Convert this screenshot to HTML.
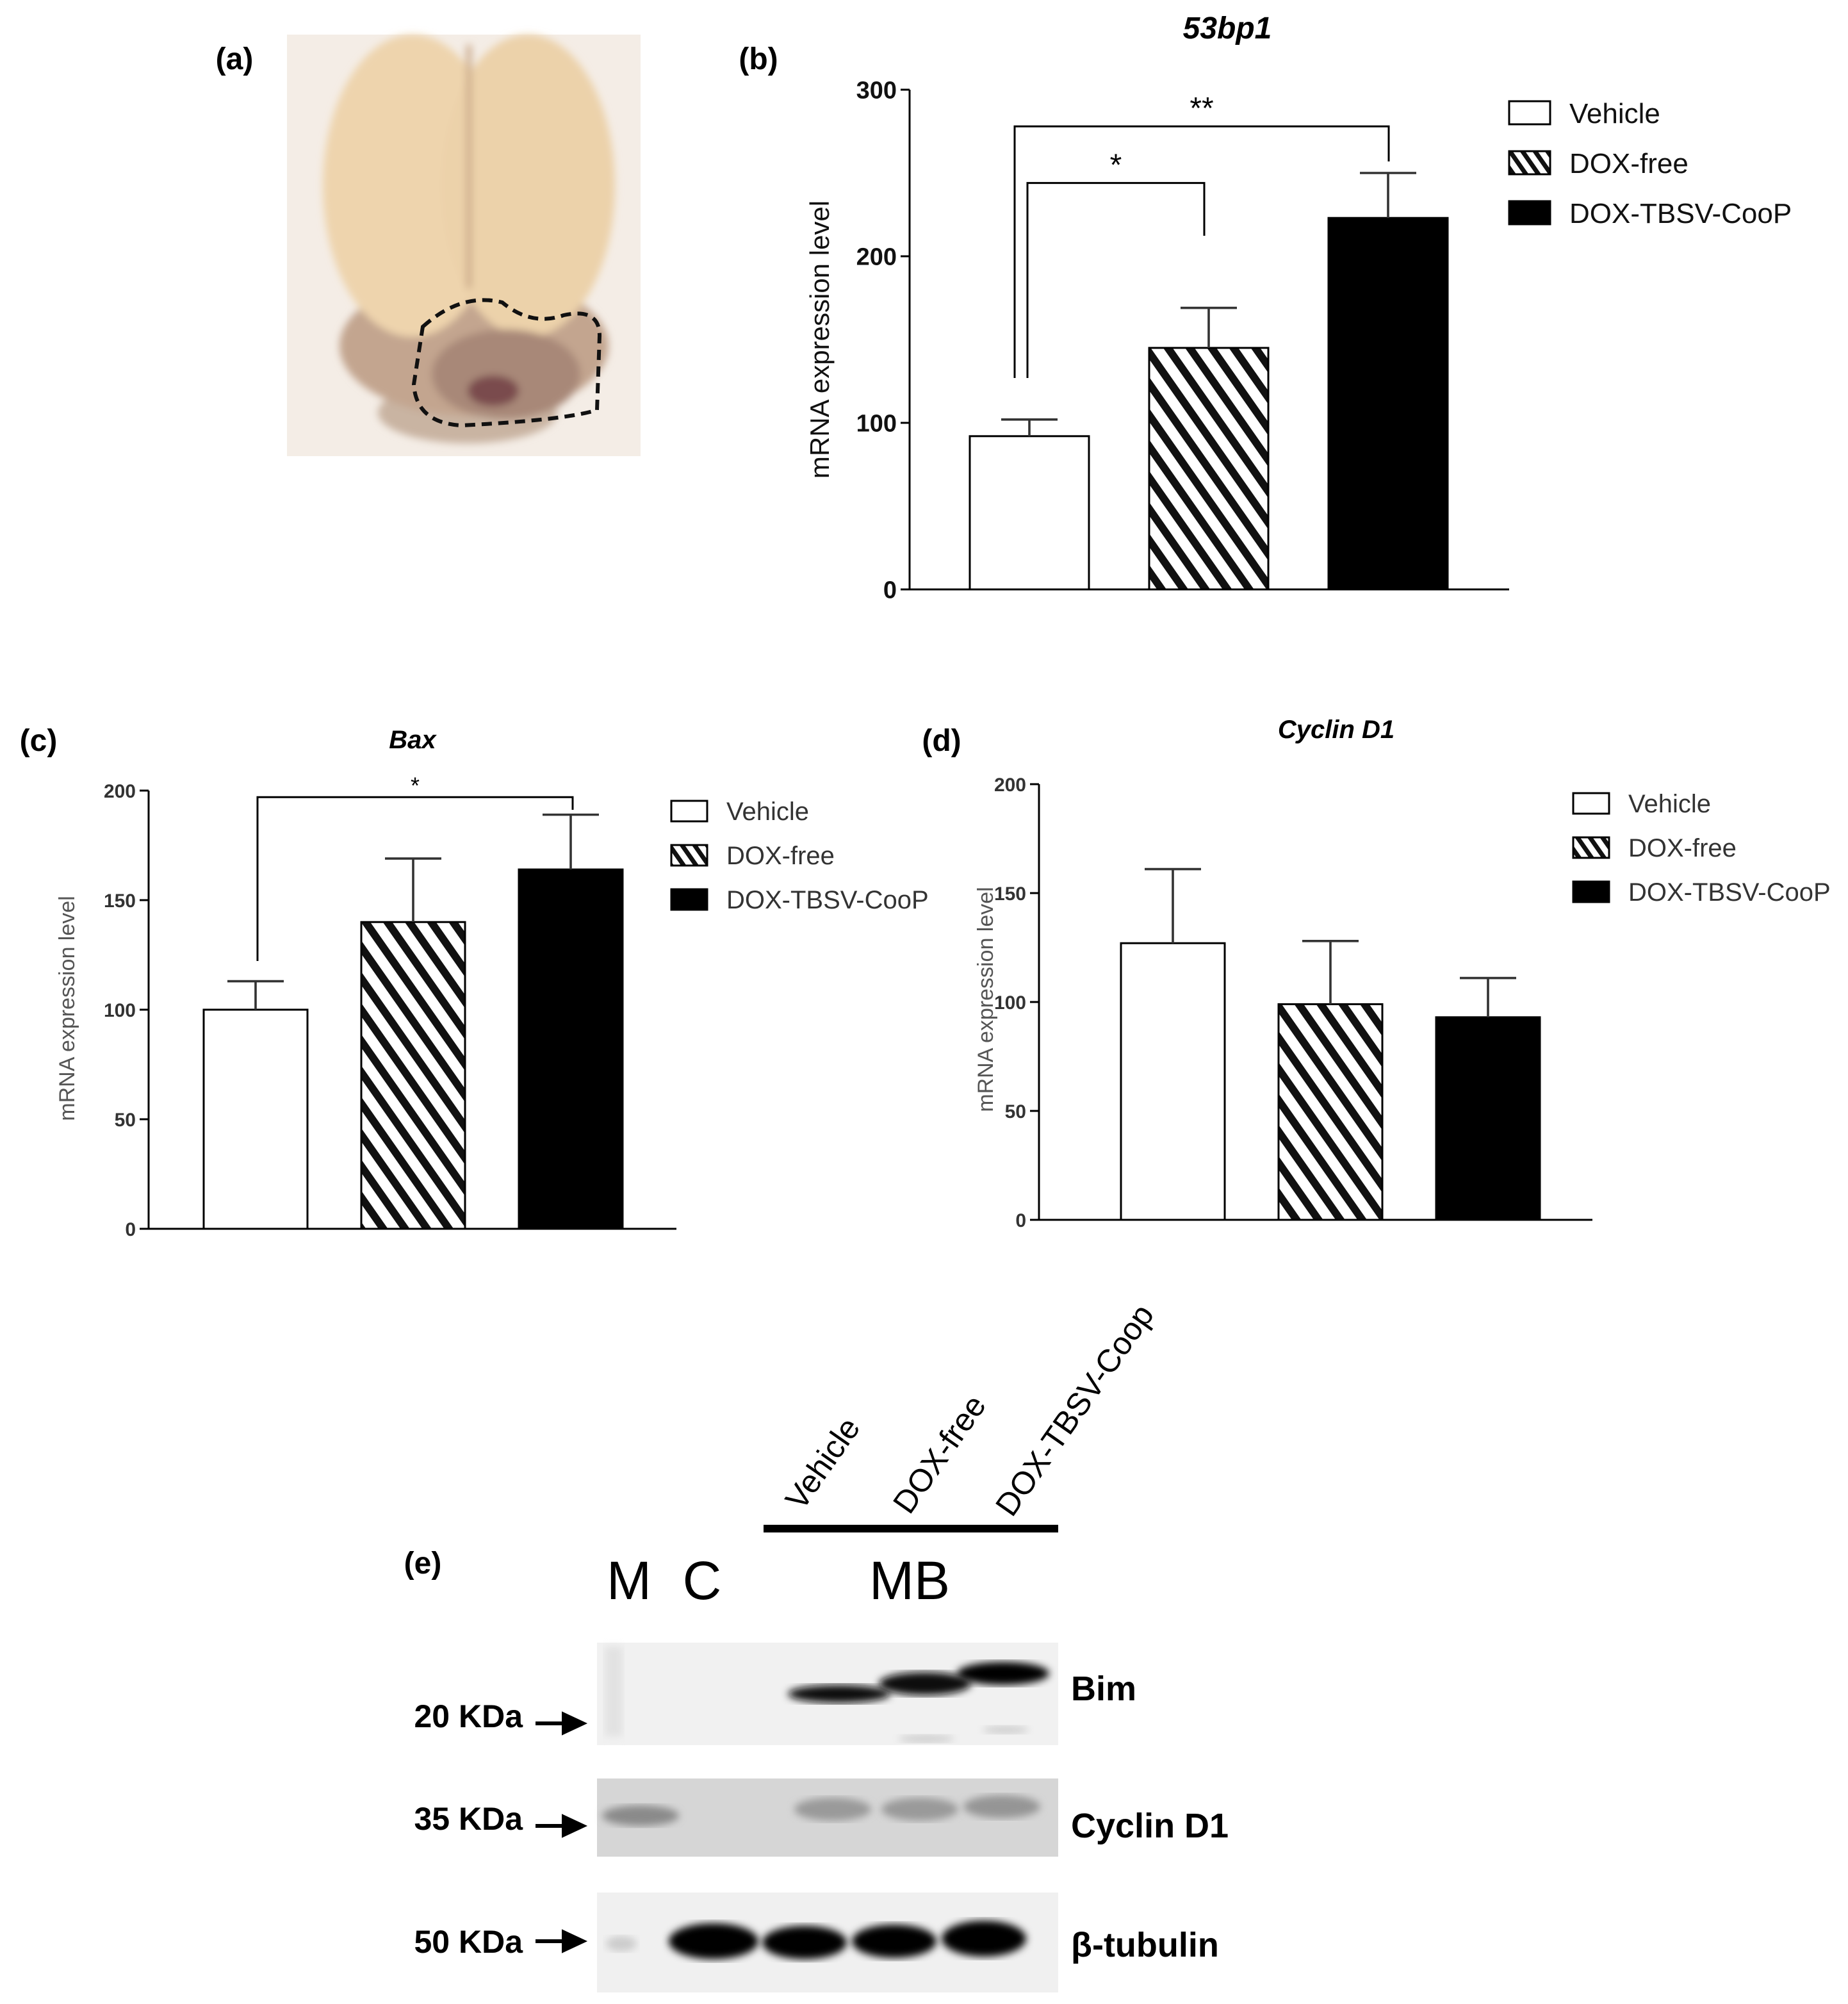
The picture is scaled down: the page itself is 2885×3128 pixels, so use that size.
<!DOCTYPE html>
<html><head><meta charset="utf-8"><style>
html,body{margin:0;padding:0;background:#fff}
svg{display:block}
text{font-family:"Liberation Sans",sans-serif}
</style></head><body>
<svg id="fig" width="2885" height="3128" viewBox="0 0 1442.5 1564" xmlns="http://www.w3.org/2000/svg">
<defs>
<pattern id="hatch" patternUnits="userSpaceOnUse" width="14" height="14" patternTransform="rotate(-35)">
<rect width="14" height="14" fill="#fff"/><rect width="6" height="14" fill="#111"/></pattern>
<pattern id="hatchL" patternUnits="userSpaceOnUse" width="8" height="8" patternTransform="rotate(-35)">
<rect width="8" height="8" fill="#fff"/><rect width="3.5" height="8" fill="#111"/></pattern>
<filter id="blur3"><feGaussianBlur stdDeviation="3"/></filter>
<filter id="blur6"><feGaussianBlur stdDeviation="6"/></filter>
</defs>

<!-- panel a -->
<g>
<text x="183" y="54" font-size="24" font-weight="bold" text-anchor="middle">(a)</text>
<rect x="224" y="27" width="276" height="329" fill="#f4ede6"/>
<g filter="url(#blur3)">
<ellipse cx="365" cy="322" rx="70" ry="24" fill="#c9b4a2"/>
<ellipse cx="370" cy="270" rx="105" ry="55" fill="#c3a58f"/>
<ellipse cx="322" cy="145" rx="70" ry="118" fill="#eed4ad"/>
<ellipse cx="412" cy="145" rx="68" ry="118" fill="#ecd2aa"/>
<rect x="364" y="35" width="4" height="190" fill="#c9a888"/>
<ellipse cx="395" cy="292" rx="58" ry="35" fill="#a88878"/>
<ellipse cx="385" cy="305" rx="20" ry="12" fill="#7a4b4e"/>
</g>
<path d="M330 255 Q360 228 392 236 Q415 255 440 246 Q468 240 468 262 L466 320 Q440 328 360 332 Q325 330 323 300 Z" fill="none" stroke="#111" stroke-width="3" stroke-dasharray="8 5"/>
</g>

<text x="592" y="54" font-size="24" font-weight="bold" text-anchor="middle">(b)</text>
<text x="30" y="586" font-size="24" font-weight="bold" text-anchor="middle">(c)</text>
<text x="735" y="586" font-size="24" font-weight="bold" text-anchor="middle">(d)</text>

<g id="charts"></g>

<!-- panel e -->
<g>
<text x="330" y="1228" font-size="24" font-weight="bold" text-anchor="middle">(e)</text>
<text transform="translate(626,1180) rotate(-55)" font-size="25">Vehicle</text>
<text transform="translate(710,1183) rotate(-55)" font-size="25">DOX-free</text>
<text transform="translate(790,1185) rotate(-55)" font-size="25">DOX-TBSV-Coop</text>
<rect x="596" y="1190" width="230" height="6" fill="#000"/>
<text x="491" y="1248" font-size="42" text-anchor="middle">M</text>
<text x="548" y="1248" font-size="42" text-anchor="middle">C</text>
<text x="710" y="1248" font-size="42" text-anchor="middle">MB</text>

<g>
<rect x="466" y="1282" width="360" height="80" fill="#f1f1f1"/>
<rect x="472" y="1285" width="14" height="70" fill="#e2e2e2" filter="url(#blur3)"/>
<ellipse cx="655" cy="1322" rx="40" ry="7" fill="#111" filter="url(#blur3)"/>
<ellipse cx="722" cy="1314" rx="36" ry="9" fill="#0a0a0a" filter="url(#blur3)"/>
<ellipse cx="783" cy="1306" rx="36" ry="9" fill="#050505" filter="url(#blur3)"/>
<ellipse cx="723" cy="1357" rx="22" ry="3" fill="#ccc" filter="url(#blur3)"/>
<ellipse cx="785" cy="1350" rx="18" ry="3" fill="#ccc" filter="url(#blur3)"/>
</g>
<g>
<rect x="466" y="1388" width="360" height="61" fill="#d6d6d6"/>
<ellipse cx="500" cy="1417" rx="30" ry="8" fill="#8a8a8a" filter="url(#blur3)"/>
<ellipse cx="650" cy="1412" rx="30" ry="9" fill="#9a9a9a" filter="url(#blur3)"/>
<ellipse cx="718" cy="1412" rx="30" ry="9" fill="#9a9a9a" filter="url(#blur3)"/>
<ellipse cx="782" cy="1410" rx="30" ry="9" fill="#959595" filter="url(#blur3)"/>
</g>
<g>
<rect x="466" y="1477" width="360" height="78" fill="#f0f0f0"/>
<ellipse cx="485" cy="1517" rx="12" ry="6" fill="#ccc" filter="url(#blur3)"/>
<ellipse cx="557" cy="1515" rx="35" ry="14" fill="#060606" filter="url(#blur3)"/>
<ellipse cx="628" cy="1516" rx="33" ry="13" fill="#060606" filter="url(#blur3)"/>
<ellipse cx="698" cy="1515" rx="33" ry="13" fill="#060606" filter="url(#blur3)"/>
<ellipse cx="768" cy="1513" rx="33" ry="14" fill="#060606" filter="url(#blur3)"/>
</g>
<g font-weight="bold" font-size="25">
<text x="408" y="1348" text-anchor="end">20 KDa</text>
<text x="408" y="1428" text-anchor="end">35 KDa</text>
<text x="408" y="1524" text-anchor="end">50 KDa</text>
<path d="M418 1345 H445 M440 1338 L455 1345 L440 1352 Z" stroke="#000" stroke-width="3" fill="#000"/>
<path d="M418 1425 H445 M440 1418 L455 1425 L440 1432 Z" stroke="#000" stroke-width="3" fill="#000"/>
<path d="M418 1515 H445 M440 1508 L455 1515 L440 1522 Z" stroke="#000" stroke-width="3" fill="#000"/>
</g>
<g font-weight="bold" font-size="27">
<text x="836" y="1327">Bim</text>
<text x="836" y="1434">Cyclin D1</text>
<text x="836" y="1527">β-tubulin</text>
</g>
</g>
</svg>
<script>
const categories = ["Vehicle","DOX-free","DOX-TBSV-CooP"];
const valsB = [92,145,223];
const errB = [102,169,250];
const valsC = [100,140,164];
const errC = [113,169,189];
const valsD = [127,99,93];
const errD = [161,128,111];
const ticksB = [0,100,200,300];
const ticksCD = [0,50,100,150,200];

const NS="http://www.w3.org/2000/svg";
const root=document.getElementById('charts');
function mk(tag,attrs,parent){const e=document.createElementNS(NS,tag);for(const k in attrs)e.setAttribute(k,attrs[k]);(parent||root).appendChild(e);return e;}

function chart(cfg){
  const g=mk('g',{});
  
  
  const y=v=>cfg.y0-(v/cfg.max)*(cfg.y0-cfg.yTop);
  const col=cfg.textColor;
  const t=mk('text',{x:cfg.titleX,y:cfg.titleY,'font-size':cfg.titleSize,'font-weight':'bold','font-style':'italic','text-anchor':'middle'},g);
  t.textContent=cfg.title;
  
  
  const ax=mk('path',{d:`M${cfg.ax} ${cfg.yTop} V${cfg.y0} H${cfg.axEnd}`,stroke:'#000','stroke-width':1.5,fill:'none'},g);
  
  
  cfg.ticks.forEach(v=>{
    mk('line',{x1:cfg.ax-7,x2:cfg.ax,y1:y(v),y2:y(v),stroke:'#000','stroke-width':1.5},g);
    const tl=mk('text',{x:cfg.ax-10,y:y(v)+cfg.tickSize*0.36,'font-size':cfg.tickSize,'font-weight':cfg.tickBold?'bold':'normal','text-anchor':'end',fill:col},g);
    tl.textContent=v;
    
    
  });
  const yl=mk('text',{transform:`translate(${cfg.ylX},${cfg.ylY}) rotate(-90)`,'font-size':cfg.ylSize,'text-anchor':'middle',fill:cfg.ylColor},g);
  yl.textContent='mRNA expression level';
  
  
  const fills=['#fff','url(#hatch)','#000'];
  cfg.vals.forEach((v,i)=>{
    const x=cfg.barX[i];
    const b=mk('rect',{x:x,y:y(v),width:cfg.barW,height:cfg.y0-y(v),fill:fills[i],stroke:'#000','stroke-width':1.5},g);
    
    
    const cx=x+cfg.barW/2;
    const e=mk('path',{d:`M${cx} ${y(v)} V${y(cfg.errs[i])} M${cx-22} ${y(cfg.errs[i])} H${cx+22}`,stroke:'#333','stroke-width':1.8,fill:'none'},g);
    
    
  });
  (cfg.brackets||[]).forEach(br=>{
    const p=mk('path',{d:`M${br.x1} ${br.b1} V${y(br.v)} H${br.x2} V${br.b2}`,stroke:'#000','stroke-width':1.5,fill:'none'},g);
    
    
    const s=mk('text',{x:(br.x1+br.x2)/2,y:y(br.v)-br.sOff,'font-size':br.sSize,'text-anchor':'middle'},g);
    s.textContent=br.s;
    
    
  });
  const lf=['#fff','url(#hatchL)','#000'];
  categories.forEach((c,i)=>{
    const ly=cfg.legY+i*cfg.legDy;
    const r=mk('rect',{x:cfg.legX,y:ly,width:cfg.legW,height:cfg.legH,fill:lf[i],stroke:'#000','stroke-width':1.5},g);
    
    
    const lt=mk('text',{x:cfg.legX+cfg.legW+15,y:ly+cfg.legH-1,'font-size':cfg.legSize,fill:col},g);
    lt.textContent=c;
    
    
  });
}
chart({name:'chart-53bp1',title:'53bp1',titleX:958,titleY:30,titleSize:24,y0:460,yTop:70,max:300,ax:710,axEnd:1178,
 ticks:ticksB,tickSize:19,tickBold:true,textColor:'#111',ylX:647,ylY:265,ylSize:21,ylColor:'#111',
 vals:valsB,errs:errB,barX:[757,897,1037],barW:93,
 brackets:[{x1:802,x2:940,b1:295,b2:184,v:244,s:'*',sOff:6,sSize:24},{x1:792,x2:1084,b1:295,b2:126,v:278,s:'**',sOff:6,sSize:24}],
 legX:1178,legY:79,legDy:39,legW:32,legH:18,legSize:22});
chart({name:'chart-bax',title:'Bax',titleX:322,titleY:584,titleSize:20,y0:959,yTop:617,max:200,ax:116,axEnd:528,
 ticks:ticksCD,tickSize:15,tickBold:true,textColor:'#333',ylX:58,ylY:787,ylSize:17,ylColor:'#555',
 vals:valsC,errs:errC,barX:[159,282,405],barW:81,
 brackets:[{x1:201,x2:447,b1:750,b2:632,v:197,s:'*',sOff:3,sSize:18}],
 legX:524,legY:625,legDy:34.5,legW:28,legH:16,legSize:20});
chart({name:'chart-cyclin-d1',title:'Cyclin D1',titleX:1043,titleY:576,titleSize:20,y0:952,yTop:612,max:200,ax:811,axEnd:1243,
 ticks:ticksCD,tickSize:15,tickBold:true,textColor:'#333',ylX:775,ylY:780,ylSize:17,ylColor:'#555',
 vals:valsD,errs:errD,barX:[875,998,1121],barW:81,
 legX:1228,legY:619,legDy:34.5,legW:28,legH:16,legSize:20});
</script>
</body></html>
